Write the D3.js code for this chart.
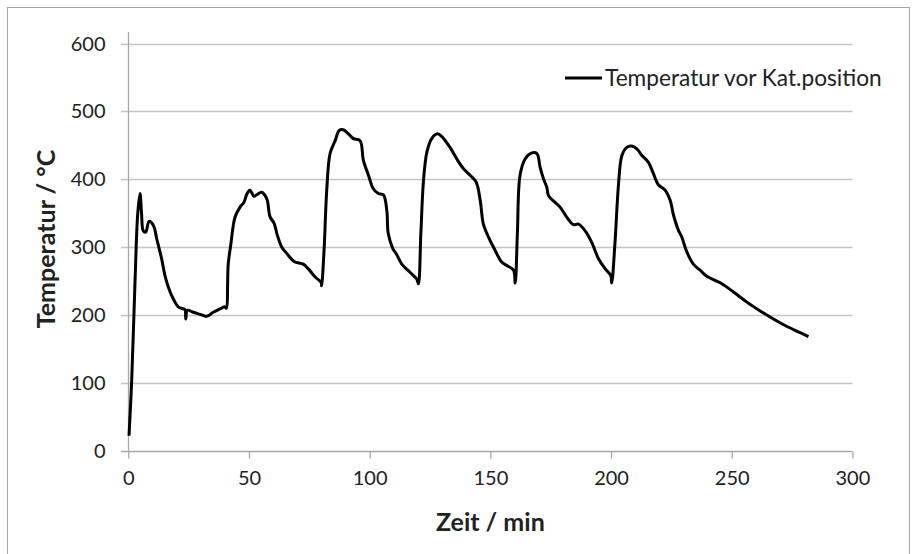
<!DOCTYPE html>
<html>
<head>
<meta charset="utf-8">
<script src="https://cdn.jsdelivr.net/npm/d3@7"></script>
<style>
  html, body { margin: 0; padding: 0; background: #fff; }
  svg { display: block; }
  text { font-family: Lato, "Open Sans", sans-serif; fill: #222; }
</style>
</head>
<body>
<svg id="chart" width="912" height="554"></svg>
<script>
const timeMin = [0.3, 1.4, 2.8, 3.9, 4.85, 5.5, 6.2, 7.2, 8.6, 10.4, 11.8, 13.8, 15.2, 16.6, 18.6, 20.7, 22.8, 23.5, 23.8, 24.5, 26.9, 29.7, 32.5, 35.2, 38, 40.1, 40.6, 41.4, 42.4, 44.2, 46.3, 47.9, 49.1, 50.4, 52.1, 53.5, 55.3, 56.7, 57.6, 58.7, 60.4, 61.8, 63.6, 65.6, 68.7, 72.5, 74.6, 77.4, 79.9, 80.1, 81.1, 82.2, 83.6, 85.7, 87.4, 89.1, 91.2, 93.2, 96, 97.4, 99.5, 101.5, 103.6, 105.7, 107.1, 107.7, 109.6, 111.2, 113.3, 116.7, 119.5, 120.2, 121.2, 122.3, 123.7, 125.7, 128.1, 129.9, 133.3, 136.1, 138.8, 141.6, 144.1, 145.8, 147.1, 149.2, 152, 154.7, 156.8, 159.6, 160.3, 161.2, 162.3, 164.4, 167.2, 169.3, 170.6, 172, 173.4, 174.1, 176.8, 178.9, 181.7, 184.5, 186.5, 189.3, 192, 194.8, 197.6, 199.9, 200.3, 201.7, 203.1, 204.5, 206.5, 208.6, 210.7, 212.8, 215.5, 217.6, 219.6, 222.4, 224.5, 225.9, 227.9, 229.3, 231.4, 234.1, 236.9, 239.7, 243.1, 245.9, 250.7, 256.3, 261.8, 267.3, 272.9, 278.4, 281.8];
const tempC = [22, 103, 251, 349, 379, 349, 324, 322, 338, 332, 312, 283, 258, 241, 224, 212, 209, 208, 194, 207, 204, 201, 198, 204, 209, 212, 210, 275, 302, 344, 359, 366, 378, 384, 375, 378, 381, 376, 369, 345, 335, 317, 300, 291, 279, 275, 268, 256, 248, 243, 295, 383, 438, 457, 472, 473, 467, 460, 457, 428, 406, 386, 379, 377, 354, 320, 298, 289, 275, 263, 253, 246, 320, 398, 440, 460, 467, 463, 447, 430, 416, 406, 396, 369, 334, 315, 295, 278, 273, 266, 247, 320, 406, 430, 439, 438, 418, 401, 388, 376, 366, 359, 344, 333, 334, 324, 307, 283, 268, 258, 247, 310, 393, 435, 447, 449, 445, 435, 425, 408, 392, 384, 369, 347, 325, 315, 293, 275, 266, 257, 251, 246, 234, 219, 206, 194, 183, 174, 168];
const xTicks = [0, 50, 100, 150, 200, 250, 300];
const yTicks = [0, 100, 200, 300, 400, 500, 600];
const seriesName = "Temperatur vor Kat.position";
const xTitle = "Zeit / min";
const yTitle = "Temperatur / °C";

const data = timeMin.map((t, i) => ({ t, v: tempC[i] }));
const svg = d3.select("#chart");

// outer frame
svg.append("rect").attr("x", 7.5).attr("y", 7.5).attr("width", 902).attr("height", 600)
  .attr("fill", "none").attr("stroke", "#a6a6a6").attr("stroke-width", 1);

const x = d3.scaleLinear().domain([0, 300]).range([128.3, 852.4]);
const y = d3.scaleLinear().domain([0, 600]).range([450.7, 43.6]);

// gridlines (extend left as tick marks)
svg.append("g").selectAll("line").data(yTicks.filter(d => d > 0)).join("line")
  .attr("x1", 121).attr("x2", x(300))
  .attr("y1", d => Math.round(y(d)) + 0.5).attr("y2", d => Math.round(y(d)) + 0.5)
  .attr("stroke", "#c4c4c4").attr("stroke-width", 1.3);

// x axis
const xAxis = d3.axisBottom(x).tickValues(xTicks).tickSize(7).tickPadding(12).tickSizeOuter(0);
const gx = svg.append("g").attr("transform", `translate(0,${Math.round(y(0)) + 0.5})`).call(xAxis);
gx.select(".domain").attr("stroke", "#a8a8a8").attr("stroke-width", 1.3).attr("d", `M121,0H${x(300)}`);
gx.selectAll(".tick line").attr("stroke", "#a8a8a8").attr("stroke-width", 1.3);
gx.selectAll(".tick text").attr("font-size", 20).attr("fill", "#222").attr("font-family", "Lato, 'Open Sans', sans-serif");

// y axis
const yAxis = d3.axisLeft(y).tickValues(yTicks).tickSize(0).tickPadding(23);
const gy = svg.append("g").attr("transform", `translate(${Math.round(x(0)) + 0.5},0)`).call(yAxis);
gy.select(".domain").attr("stroke", "#a8a8a8").attr("stroke-width", 1.3).attr("d", `M0,32V${y(0)}`);
gy.selectAll(".tick text").attr("font-size", 20).attr("fill", "#222").attr("font-family", "Lato, 'Open Sans', sans-serif");

// line
const line = d3.line().x(d => x(d.t)).y(d => y(d.v)).curve(d3.curveCatmullRom.alpha(0.5));
svg.append("path").datum(data).attr("d", line)
  .attr("fill", "none").attr("stroke", "#000").attr("stroke-width", 3).attr("stroke-linejoin", "round");

// titles
svg.append("text").attr("x", (x(0) + x(300)) / 2).attr("y", 522).attr("dy", "0.35em")
  .attr("text-anchor", "middle").attr("font-size", 25).attr("font-weight", "bold").text(xTitle);
svg.append("text").attr("transform", `translate(46,${239}) rotate(-90)`).attr("dy", "0.35em")
  .attr("text-anchor", "middle").attr("font-size", 25).attr("font-weight", "bold").text(yTitle);

// legend
svg.append("line").attr("x1", 565).attr("x2", 602).attr("y1", 78).attr("y2", 78)
  .attr("stroke", "#000").attr("stroke-width", 3);
const lt = svg.append("text").attr("x", 605).attr("y", 78).attr("dy", "0.35em")
  .attr("font-size", 20).text(seriesName);
const w = lt.node().getComputedTextLength();
lt.attr("font-size", 20 * 277 / w);
</script>
</body>
</html>
